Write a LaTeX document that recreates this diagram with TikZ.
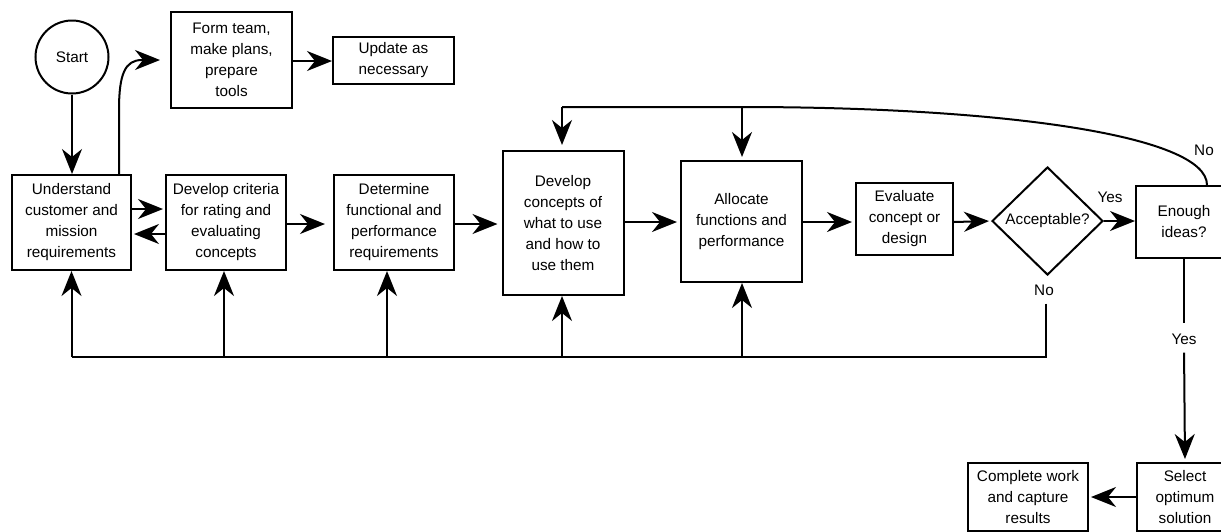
\documentclass[tikz,border=0pt]{standalone}
\usepackage{fontspec}
\setmainfont{Liberation Sans}
\usetikzlibrary{arrows.meta,shapes.geometric}
\newcommand\diafont{\fontsize{15.3}{21}\selectfont}
\begin{document}
\begin{tikzpicture}[x=1pt,y=-1pt,
  every node/.style={font=\diafont},
  box/.style={draw,line width=2pt,align=center,inner sep=0pt},
  lbl/.style={inner sep=2pt},
  conn/.style={line width=2pt},
  arr/.style={line width=2pt,-{Stealth[length=25pt,width=20pt,inset=8pt]}}]
\useasboundingbox (0,0) rectangle (1221,531);
\clip (0,0) rectangle (1221,531);
\fill[white] (0,0) rectangle (1221,531);
% nodes
\node[draw,circle,line width=2pt,minimum size=73pt,inner sep=0pt] (start) at (72,57) {Start};
\node[box,minimum width=121pt,minimum height=96pt] (form) at (231.5,60) {Form team,\\make plans,\\prepare\\tools};
\node[box,minimum width=121pt,minimum height=47pt] (update) at (393.5,60.5) {Update as\\necessary};
\node[box,minimum width=119pt,minimum height=95pt] (und) at (71.5,222.5) {Understand\\customer and\\mission\\requirements};
\node[box,minimum width=120pt,minimum height=95pt] (crit) at (226,222.5) {Develop criteria\\for rating and\\evaluating\\concepts};
\node[box,minimum width=120pt,minimum height=95pt] (det) at (394,222.5) {Determine\\functional and\\performance\\requirements};
\node[box,minimum width=121pt,minimum height=144pt] (dev) at (563,223) {Develop\\concepts of\\what to use\\and how to\\use them};
\node[box,minimum width=121pt,minimum height=121pt] (alloc) at (741.5,221.5) {Allocate\\functions and\\performance};
\node[box,minimum width=97pt,minimum height=72pt] (eval) at (904.5,219) {Evaluate\\concept or\\design};
\node[draw,diamond,line width=2pt,inner sep=0pt,minimum width=111pt,minimum height=108pt,label={center:Acceptable?}] (acc) at (1047.5,221) {};
\node[box,minimum width=96pt,minimum height=72pt] (enough) at (1184,222) {Enough\\ideas?};
\node[box,minimum width=96pt,minimum height=68pt] (select) at (1185,497) {Select\\optimum\\solution};
\node[box,minimum width=120pt,minimum height=68pt] (complete) at (1028,497) {Complete work\\and capture\\results};
% labels
\node[lbl] (yes1) at (1110,197) {Yes};
\node[lbl] (no1) at (1204,150) {No};
\node[lbl] (no2) at (1044,290) {No};
\node[lbl] (yes2) at (1184,339) {Yes};
% coordinates
\coordinate (fb) at (1046,357);
\coordinate (topA) at (742,107);
\coordinate (topD) at (562,107);
% connectors
\draw[arr] (start) -- (start |- und.north);
\draw[arr,shorten >=10pt] ([xshift=47.5pt]und.north) -- (119,110) .. controls (119,74) and (125,60) .. (142,60) -- (form.west |- 0,60);
\draw[arr] (form.east |- 0,61) -- (update.west |- 0,61);
\draw[arr,shorten >=2pt] (und.east |- 0,209) -- (crit.west |- 0,209);
\draw[arr,shorten >=2pt] (crit.west |- 0,234) -- (und.east |- 0,234);
\draw[arr,shorten >=8pt] (crit.east |- 0,224) -- (det.west |- 0,224);
\draw[arr,shorten >=4pt] (det.east |- 0,224) -- (dev.west |- 0,224);
\draw[arr,shorten >=3pt] (dev.east |- 0,222) -- (alloc.west |- 0,222);
\draw[arr,shorten >=3pt] (alloc.east |- 0,222) -- (eval.west |- 0,222);
\draw[arr,shorten >=2pt] (eval.east |- 0,222) -- (acc.west);
\draw[arr] (acc.east) -- (enough.west |- acc.east);
% top feedback
\draw[conn] ([xshift=23pt]enough.north) .. controls (1207,135) and (1000,107) .. (topA) -- (topD);
\draw[arr,shorten >=5pt] (topD) -- (topD |- dev.north);
\draw[arr,shorten >=3pt] (topA) -- (topA |- alloc.north);
% bottom feedback
\draw[conn,shorten <=6pt] (no2.south -| fb) -- (fb) -- (fb -| und.south);
\draw[arr] (fb -| und.south) -- (und.south);
\draw[arr] (fb -| 224,0) -- (224,0 |- crit.south);
\draw[arr] (fb -| 387,0) -- (387,0 |- det.south);
\draw[arr] (fb -| topD) -- (topD |- dev.south);
\draw[arr] (fb -| topA) -- (topA |- alloc.south);
% enough -> select
\draw[conn,shorten >=8pt] (enough.south) -- (yes2.north);
\draw[arr,shorten <=6pt,shorten >=3pt] (yes2.south) -- (select.north);
\draw[arr,shorten >=2pt] (select.west) -- (complete.east);
\end{tikzpicture}
\end{document}
